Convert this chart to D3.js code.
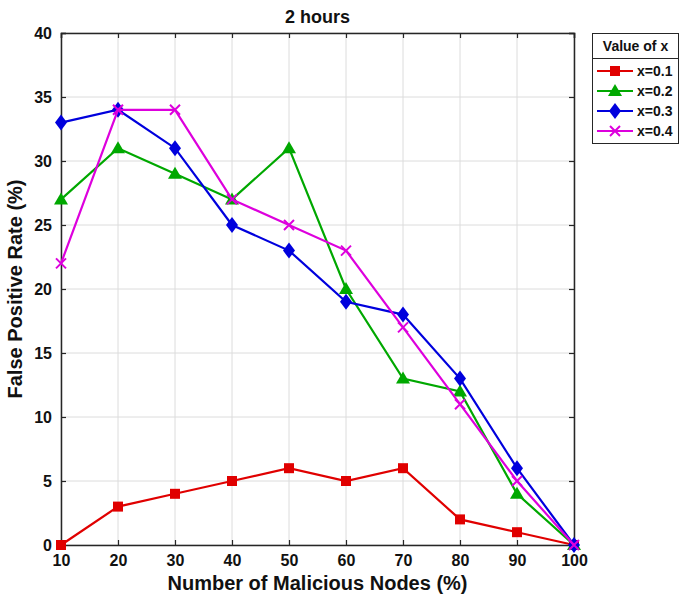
<!DOCTYPE html>
<html><head><meta charset="utf-8">
<script src="https://cdn.jsdelivr.net/npm/d3@7"></script>
<style>
body{margin:0;background:#fff;}
text{font-family:"Liberation Sans",Arial,sans-serif;font-weight:bold;}
</style></head>
<body><svg id="c" width="682" height="604"></svg>
<script>
const categories = [10,20,30,40,50,60,70,80,90,100];
const seriesNames = ["x=0.1","x=0.2","x=0.3","x=0.4"];
const s01 = [0,3,4,5,6,5,6,2,1,0];
const s02 = [27,31,29,27,31,20,13,12,4,0];
const s03 = [33,34,31,25,23,19,18,13,6,0];
const s04 = [22,34,34,27,25,23,17,11,5,0];
const yTicks = [0,5,10,15,20,25,30,35,40];
const colors = ["#e00000","#00a800","#0000dd","#dd00dd"];
const markers = ["square","triangle","diamond","cross"];
const series = [s01,s02,s03,s04];

const svg = d3.select("#c");
const L=61,R=574,T=33,B=545;
const x = d3.scaleLinear().domain([10,100]).range([L,R]);
const y = d3.scaleLinear().domain([0,40]).range([B,T]);

// grid
const g = svg.append("g");
g.selectAll(".vg").data(categories).enter().append("line")
 .attr("x1",d=>x(d)).attr("x2",d=>x(d)).attr("y1",T).attr("y2",B)
 .attr("stroke","#dcdcdc").attr("stroke-width",1);
g.selectAll(".hg").data(yTicks).enter().append("line")
 .attr("y1",d=>y(d)).attr("y2",d=>y(d)).attr("x1",L).attr("x2",R)
 .attr("stroke","#dcdcdc").attr("stroke-width",1);

// axes
const xa = svg.append("g").attr("transform",`translate(0,${B})`)
 .call(d3.axisBottom(x).tickValues(categories).tickSize(-5).tickPadding(10).tickFormat(d3.format("d")));
const xt = svg.append("g").attr("transform",`translate(0,${T})`)
 .call(d3.axisTop(x).tickValues(categories).tickSize(-5).tickFormat(""));
const ya = svg.append("g").attr("transform",`translate(${L},0)`)
 .call(d3.axisLeft(y).tickValues(yTicks).tickSize(-5).tickPadding(9));
const yr = svg.append("g").attr("transform",`translate(${R},0)`)
 .call(d3.axisRight(y).tickValues(yTicks).tickSize(-5).tickFormat(""));
[xa,xt,ya,yr].forEach(a=>{
  a.select(".domain").attr("stroke","#262626").attr("stroke-width",1.5);
  a.selectAll(".tick line").attr("stroke","#262626").attr("stroke-width",1.2);
  a.selectAll("text").attr("font-size",16).attr("fill","#111").attr("font-family","Liberation Sans, Arial, sans-serif").attr("font-weight","bold");
});

function marker(sel, type, color){
  if(type==="square"){
    sel.append("rect").attr("x",-5).attr("y",-5).attr("width",10).attr("height",10).attr("fill",color);
  } else if(type==="triangle"){
    sel.append("path").attr("d","M0,-7L7,5L-7,5Z").attr("fill",color);
  } else if(type==="diamond"){
    sel.append("path").attr("d","M0,-8L6,0L0,8L-6,0Z").attr("fill",color);
  } else {
    sel.append("path").attr("d","M-5,-5L5,5M-5,5L5,-5").attr("stroke",color).attr("stroke-width",2).attr("fill","none");
  }
}

const line = d3.line().x((d,i)=>x(categories[i])).y(d=>y(d));
series.forEach((s,k)=>{
  svg.append("path").datum(s).attr("d",line).attr("fill","none")
    .attr("stroke",colors[k]).attr("stroke-width",2.2);
  svg.append("g").selectAll("g").data(s).enter().append("g")
    .attr("transform",(d,i)=>`translate(${x(categories[i])},${y(d)})`)
    .each(function(){ marker(d3.select(this), markers[k], colors[k]); });
});

// title & labels
svg.append("text").attr("x",(L+R)/2).attr("y",23).attr("text-anchor","middle")
 .attr("font-size",18).attr("fill","#111").text("2 hours");
svg.append("text").attr("x",(L+R)/2).attr("y",590).attr("text-anchor","middle")
 .attr("font-size",20).attr("fill","#111").text("Number of Malicious Nodes (%)");
svg.append("text").attr("transform",`translate(22,${(T+B)/2}) rotate(-90)`).attr("text-anchor","middle")
 .attr("font-size",20).attr("fill","#111").text("False Positive Rate (%)");

// legend
const lg = svg.append("g");
lg.append("rect").attr("x",592.5).attr("y",33.5).attr("width",86).attr("height",110)
 .attr("fill","#fff").attr("stroke","#262626").attr("stroke-width",1);
lg.append("line").attr("x1",592.5).attr("x2",678.5).attr("y1",58.5).attr("y2",58.5).attr("stroke","#262626");
lg.append("text").attr("x",635.5).attr("y",51).attr("text-anchor","middle").attr("font-size",14).attr("fill","#111").text("Value of x");
seriesNames.forEach((n,k)=>{
  const yy = 71 + k*20;
  lg.append("line").attr("x1",597).attr("x2",633).attr("y1",yy).attr("y2",yy).attr("stroke",colors[k]).attr("stroke-width",2.2);
  const m = lg.append("g").attr("transform",`translate(615,${yy})`);
  marker(m, markers[k], colors[k]);
  lg.append("text").attr("x",637).attr("y",yy+5).attr("font-size",14).attr("fill","#111").text(n);
});
</script></body></html>
